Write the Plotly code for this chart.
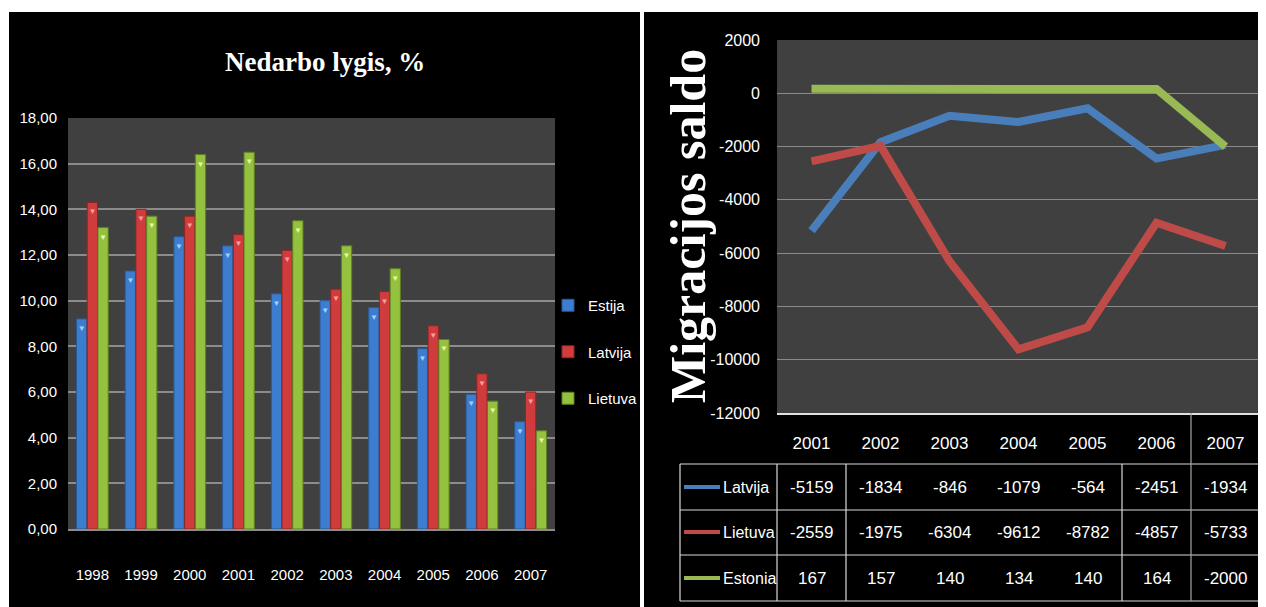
import plotly.graph_objects as go

# ---------------- data ----------------
years_u = ["1998", "1999", "2000", "2001", "2002", "2003", "2004", "2005", "2006", "2007"]
estija_u = [9.2, 11.3, 12.8, 12.4, 10.3, 10.0, 9.7, 7.9, 5.9, 4.7]
latvija_u = [14.3, 14.0, 13.7, 12.9, 12.2, 10.5, 10.4, 8.9, 6.8, 6.0]
lietuva_u = [13.2, 13.7, 16.4, 16.5, 13.5, 12.4, 11.4, 8.3, 5.6, 4.3]
u_tickvals = [0, 2, 4, 6, 8, 10, 12, 14, 16, 18]
u_ticktext = ["0,00", "2,00", "4,00", "6,00", "8,00", "10,00", "12,00", "14,00", "16,00", "18,00"]

years_m = ["2001", "2002", "2003", "2004", "2005", "2006", "2007"]
latvija_m = [-5159, -1834, -846, -1079, -564, -2451, -1934]
lietuva_m = [-2559, -1975, -6304, -9612, -8782, -4857, -5733]
estonia_m = [167, 157, 140, 134, 140, 164, -2000]
m_tickvals = [-12000, -10000, -8000, -6000, -4000, -2000, 0, 2000]
m_ticktext = ["-12000", "-10000", "-8000", "-6000", "-4000", "-2000", "0", "2000"]

# ---------------- helpers (layout only; screen px -> paper, page body margin 8px) ----------------
OFF = 8
W, H = 1266 - OFF, 607 - OFF
def px(x):
    return (x - OFF) / W
def py(y):
    return 1 - (y - OFF) / H

SANS = "Liberation Sans, Arial, sans-serif"
SERIF = "Liberation Serif, Times New Roman, DejaVu Serif, serif"

fig = go.Figure()

bar_styles = [
    ("Estija", estija_u, "#3c7dd0", "#2a5a96", "#a4d0f8"),
    ("Latvija", latvija_u, "#d03c3c", "#8e2626", "#f8a0a0"),
    ("Lietuva", lietuva_u, "#94c13e", "#5f7f25", "#eaf8a0"),
]
for name, vals, col, edge, tri in bar_styles:
    fig.add_trace(go.Bar(
        x=years_u, y=vals, name=name, legendgroup=name,
        marker=dict(color=col, line=dict(color=edge, width=1)),
        text=["▼"] * len(vals), textposition="inside", insidetextanchor="end",
        textangle=0, constraintext="none",
        textfont=dict(color=tri, size=8),
        xaxis="x", yaxis="y", hoverinfo="x+y",
    ))

line_series = [
    ("Latvija", latvija_m, "#4a7ebb"),
    ("Lietuva", lietuva_m, "#be4b48"),
    ("Estonia", estonia_m, "#98b954"),
]
for name, vals, col in line_series:
    fig.add_trace(go.Scatter(
        x=years_m, y=vals, name=name, mode="lines",
        line=dict(color=col, width=8),
        xaxis="x2", yaxis="y2", showlegend=False,
    ))

# ---------------- data table under the line chart ----------------
row_centers = [487, 532, 578]
annotations = []
shapes = []
for (name, vals, col), yc in zip(line_series, row_centers):
    for i, v in enumerate(vals):
        annotations.append(dict(
            x=i, xref="x2", y=py(yc), yref="paper", text=str(v), showarrow=False,
            font=dict(family=SANS, size=17, color="white"),
            xanchor="center", yanchor="middle",
        ))
    annotations.append(dict(
        x=px(721), xref="paper", y=py(yc), yref="paper", text=name, showarrow=False,
        font=dict(family=SANS, size=16, color="white"), xanchor="left", yanchor="middle",
    ))
    shapes.append(dict(type="line", xref="paper", yref="paper",
                       x0=px(684), x1=px(720), y0=py(yc), y1=py(yc),
                       line=dict(color=col, width=4)))

tbl_line = dict(color="#d9d9d9", width=1.2)
for yy in [464, 510, 555, 601]:
    shapes.append(dict(type="line", xref="paper", yref="paper",
                       x0=px(680), x1=px(1260), y0=py(yy), y1=py(yy), line=tbl_line))
for xx in [680, 777]:
    shapes.append(dict(type="line", xref="paper", yref="paper",
                       x0=px(xx), x1=px(xx), y0=py(464), y1=py(601), line=tbl_line))
for xi in [0.5, 4.5]:
    shapes.append(dict(type="line", xref="x2", yref="paper",
                       x0=xi, x1=xi, y0=py(464), y1=py(601), line=tbl_line))
shapes.append(dict(type="line", xref="x2", yref="paper",
                   x0=5.5, x1=5.5, y0=py(413), y1=py(601), line=dict(color="#a6a6a6", width=1.2)))
shapes.append(dict(type="line", xref="x2 domain", yref="paper",
                   x0=1, x1=1, y0=py(601), y1=py(40), line=dict(color="#a6a6a6", width=1.5)))

# white frame strips (top, left, separator between the two panels)
for (x0, x1, y0, y1) in [(0, 1266, 0, 12), (0, 9, 0, 607), (640, 644, 0, 607)]:
    shapes.append(dict(type="rect", xref="paper", yref="paper",
                       x0=px(x0), x1=px(x1), y0=py(y1), y1=py(y0),
                       fillcolor="white", line=dict(width=0), layer="above"))

# titles
annotations.append(dict(
    x=px(325), y=py(62), xref="paper", yref="paper", text="<b>Nedarbo lygis, %</b>",
    showarrow=False, font=dict(family=SERIF, size=27, color="white"),
    xanchor="center", yanchor="middle",
))
annotations.append(dict(
    x=px(688), y=py(226), xref="paper", yref="paper", text="<b>Migracijos saldo</b>",
    showarrow=False, textangle=-90, font=dict(family=SERIF, size=50, color="white"),
    xanchor="center", yanchor="middle",
))

fig.update_layout(
    width=W, height=H, margin=dict(l=0, r=0, t=0, b=0, autoexpand=False),
    paper_bgcolor="black", plot_bgcolor="#404040",
    barmode="group", bargap=0.34, bargroupgap=0.04,
    showlegend=True,
    legend=dict(x=px(548), y=py(352), xanchor="left", yanchor="middle",
                font=dict(family=SANS, size=15, color="white"),
                tracegroupgap=24, bgcolor="rgba(0,0,0,0)", itemwidth=30),
    xaxis=dict(domain=[px(68), px(555)], type="category", automargin=False,
               showgrid=False, showline=True, linecolor="#8c8c8c", linewidth=2,
               tickfont=dict(family=SANS, size=15, color="white"),
               ticks="", ticklabelstandoff=31, fixedrange=True),
    yaxis=dict(domain=[py(529), py(118)], range=[0, 18], automargin=False,
               tickvals=u_tickvals, ticktext=u_ticktext,
               showgrid=True, gridcolor="#8c8c8c", gridwidth=2,
               zeroline=False, showline=False,
               tickfont=dict(family=SANS, size=15, color="white"),
               ticks="", ticklabelstandoff=10, fixedrange=True),
    xaxis2=dict(domain=[px(777), px(1260)], type="category", range=[-0.5, 6.5],
                anchor="y2", automargin=False, showgrid=False, showline=True,
                linecolor="#e0e0e0", linewidth=1.5,
                tickfont=dict(family=SANS, size=17, color="white"),
                ticks="", ticklabelstandoff=14, fixedrange=True),
    yaxis2=dict(domain=[py(413), py(40)], range=[-12000, 2000], anchor="x2", automargin=False,
                tickvals=m_tickvals, ticktext=m_ticktext,
                showgrid=True, gridcolor="#8a8a8a", gridwidth=1,
                zeroline=False, showline=False,
                tickfont=dict(family=SANS, size=16, color="white"),
                ticks="", ticklabelstandoff=16, fixedrange=True),
    annotations=annotations,
    shapes=shapes,
)

fig.write_html("out.html")
